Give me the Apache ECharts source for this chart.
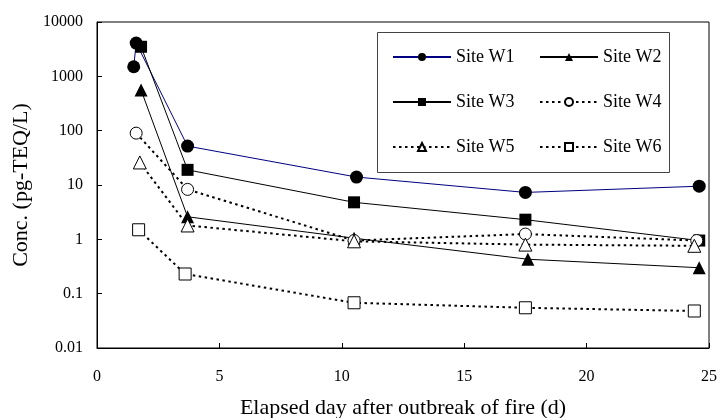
<!DOCTYPE html>
<html>
<head>
<meta charset="utf-8">
<script src="https://cdn.jsdelivr.net/npm/echarts@6/dist/echarts.min.js"></script>
<style>
  html, body { margin: 0; padding: 0; background: #fff; }
  #chart { width: 717px; height: 418px; }
</style>
</head>
<body>
<div id="chart"></div>
<script>
// data: [day, concentration pg-TEQ/L]
var siteW1 = [[1.5, 1500], [1.6, 4100], [3.7, 52], [10.6, 14], [17.5, 7.3], [24.6, 9.5]];
var siteW2 = [[1.8, 560], [3.7, 2.6], [10.5, 1.05], [17.6, 0.43], [24.6, 0.30]];
var siteW3 = [[1.8, 3500], [3.7, 19], [10.5, 4.8], [17.5, 2.3], [24.6, 0.95]];
var siteW4 = [[1.6, 90], [3.7, 8.3], [10.5, 0.95], [17.5, 1.25], [24.5, 0.95]];
var siteW5 = [[1.75, 26], [3.7, 1.8], [10.5, 0.92], [17.5, 0.8], [24.4, 0.76]];
var siteW6 = [[1.7, 1.5], [3.6, 0.23], [10.5, 0.068], [17.5, 0.055], [24.4, 0.048]];

var FONT = 'Liberation Serif';

var solidLine = function(name, data, symbol, size, color) {
  return {
    name: name,
    type: 'line',
    data: data,
    symbol: symbol,
    symbolSize: size,
    lineStyle: { color: color, width: 1, type: 'solid' },
    itemStyle: { color: '#000', borderColor: '#000', borderWidth: 0 },
    emphasis: { disabled: true }
  }
}

var dottedLine = function(name, data, symbol, size) {
  return {
    name: name,
    type: 'line',
    data: data,
    symbol: symbol,
    symbolSize: size,
    lineStyle: { color: '#000', width: 2, type: [2.5, 3.5] },
    itemStyle: { color: '#fff', borderColor: '#000', borderWidth: 1 },
    emphasis: { disabled: true }
  }
}

var legendBase = {
  orient: 'vertical',
  top: 48,
  padding: 0,
  itemWidth: 58,
  itemHeight: 10,
  itemGap: 27,
  selectedMode: false,
  textStyle: { fontFamily: FONT, fontSize: 18, color: '#000', lineHeight: 18 }
}

var chart = echarts.init(document.getElementById('chart'), null, { renderer: 'canvas' });

chart.setOption({
  animation: false,
  backgroundColor: '#fff',
  textStyle: { fontFamily: FONT },
  grid: {
    left: 97, right: 8, top: 22, bottom: 70,
    outerBoundsMode: 'none',
    containLabel: false,
    show: true, borderColor: '#000', borderWidth: 1
  },
  legend: [
    Object.assign({}, legendBase, { left: 392, data: ['Site W1', 'Site W3', 'Site W5'] }),
    Object.assign({}, legendBase, { left: 539, data: ['Site W2', 'Site W4', 'Site W6'] })
  ],
  graphic: [{
    type: 'rect',
    shape: { x: 377.5, y: 32.5, width: 292, height: 140 },
    style: { fill: 'none', stroke: '#444', lineWidth: 1 },
    z: 1
  }],
  xAxis: {
    type: 'value',
    min: 0, max: 25, interval: 5,
    name: 'Elapsed day after outbreak of fire (d)',
    nameLocation: 'middle',
    nameGap: 49,
    nameTextStyle: { fontFamily: FONT, fontSize: 22, color: '#000' },
    axisLine: { lineStyle: { color: '#000', width: 1 } },
    axisTick: { inside: true, length: 5, lineStyle: { color: '#000' } },
    axisLabel: { fontFamily: FONT, fontSize: 16, color: '#000', margin: 21 },
    splitLine: { show: false }
  },
  yAxis: {
    type: 'log',
    logBase: 10,
    min: 0.01, max: 10000,
    name: 'Conc. (pg-TEQ/L)',
    nameLocation: 'middle',
    nameGap: 62,
    nameTextStyle: { fontFamily: FONT, fontSize: 22, color: '#000' },
    axisLine: { show: true, lineStyle: { color: '#000', width: 1 } },
    axisTick: { inside: true, length: 5, lineStyle: { color: '#000' } },
    axisLabel: {
      fontFamily: FONT, fontSize: 16, color: '#000', margin: 14,
      formatter: function(v) { return String(+v.toPrecision(6)); }
    },
    splitLine: { show: false }
  },
  series: [
    solidLine('Site W1', siteW1, 'circle', 13, '#000080'),
    solidLine('Site W2', siteW2, 'triangle', 13, '#000'),
    solidLine('Site W3', siteW3, 'rect', 12, '#000'),
    dottedLine('Site W4', siteW4, 'circle', 12),
    dottedLine('Site W5', siteW5, 'triangle', 13),
    dottedLine('Site W6', siteW6, 'rect', 12)
  ]
});
</script>
</body>
</html>
